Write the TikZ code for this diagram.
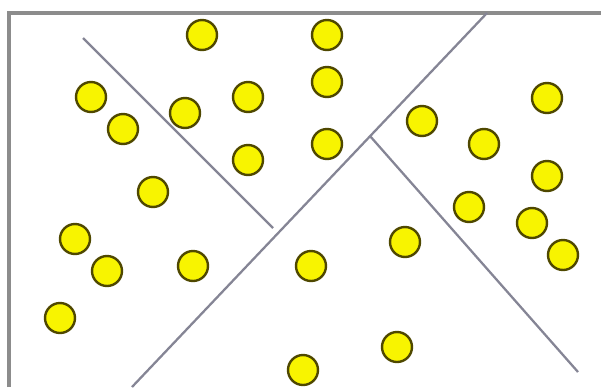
\documentclass[tikz,border=0pt]{standalone}
\begin{document}
\begin{tikzpicture}[x=0.75pt,y=-0.75pt,
  dot/.style={circle,draw=dotline,fill=dotfill,line width=1.8pt,minimum size=22.5pt,inner sep=0pt},
  frame/.style={draw=framegray,line width=3.2pt},
  cut/.style={draw=cutgray,line width=1.7pt}]
\definecolor{dotline}{HTML}{4F4800}
\definecolor{dotfill}{HTML}{F8F400}
\definecolor{framegray}{HTML}{8C8C8C}
\definecolor{cutgray}{HTML}{858595}
\useasboundingbox (0,0) rectangle (601,387);
\fill[white] (0,0) rectangle (601,387);
% frame
\draw[frame] (9,387) -- (9,13) -- (601,13);
% cutting lines
\coordinate (a1) at (83,38);
\coordinate (a2) at (273,228);
\coordinate (b1) at (487,13);
\coordinate (b2) at (132,387);
\coordinate (c1) at (370,136);
\coordinate (c2) at (578,372);
\draw[cut] (a1) -- (a2);
\draw[cut] (b1) -- (b2);
\draw[cut] (c1) -- (c2);
% dots
\foreach \x/\y [count=\i] in {202/35, 327/35, 91/97, 185/113, 248/97, 327/82, 123/129, 248/160, 327/144, 153/192,
  422/121, 484/144, 547/98, 547/176, 469/207, 532/223, 563/255, 405/242,
  75/239, 107/271, 193/266, 311/266, 60/318, 397/347, 303/370}
  \node[dot] (d\i) at (\x,\y) {};
\end{tikzpicture}
\end{document}
